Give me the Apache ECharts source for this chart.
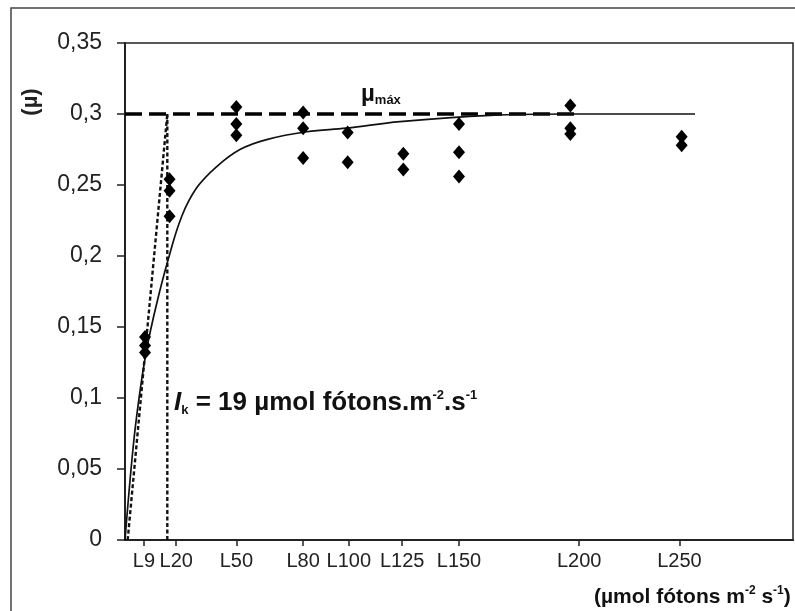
<!DOCTYPE html>
<html>
<head>
<meta charset="utf-8">
<script src="https://cdn.jsdelivr.net/npm/echarts@6/dist/echarts.min.js"></script>
<style>
  html, body { margin: 0; padding: 0; background: #fff; }
  #chart { width: 795px; height: 611px; }
</style>
</head>
<body>
<div id="chart"></div>
<script>
// Light treatments (µmol fótons m-2 s-1) and replicate growth rates (µ)
const lightLevels = [9, 20, 50, 80, 100, 125, 150, 200, 250];
const growthRates = [
  [0.143, 0.137, 0.132],
  [0.254, 0.246, 0.228],
  [0.305, 0.293, 0.285],
  [0.301, 0.290, 0.269],
  [0.287, 0.266],
  [0.272, 0.261],
  [0.293, 0.273, 0.256],
  [0.306, 0.290, 0.286],
  [0.284, 0.278]
];

// Axis tick labels and where they sit on the irradiance scale
const tickLabels = ['L9', 'L20', 'L50', 'L80', 'L100', 'L125', 'L150', 'L200', 'L250'];
const tickPositions = [8.5, 23, 50, 80, 100.5, 124.5, 150, 204, 249];

// Fitted µ–I curve
const fitIrradiance = [0, 3.7, 6.4, 9.7, 14, 19.3, 25.5, 32.2, 41.2, 51.6, 63.6, 81.6, 99.5, 123.5, 164, 200, 256];
const fitRate = [0, 0.066, 0.101, 0.134, 0.165, 0.197, 0.228, 0.248, 0.263, 0.275, 0.282, 0.2875, 0.290, 0.2946, 0.299, 0.300, 0.300];

// Saturation parameters
const muMax = 0.3;
const muMaxLineEnd = 204;
const ik = 19;
const slopeStart = 1.2;

const scatterData = [];
lightLevels.forEach((x, i) => growthRates[i].forEach(y => scatterData.push([x, y])));
const fitData = fitIrradiance.map((x, i) => [x, fitRate[i]]);

const FONT = '"Liberation Sans", Arial, sans-serif';

const chart = echarts.init(document.getElementById('chart'), null, { renderer: 'canvas' });

chart.setOption({
  animation: false,
  backgroundColor: '#ffffff',
  grid: {
    left: 125, top: 43, right: 2, bottom: 71,
    show: true, borderColor: '#222', borderWidth: 1.5, backgroundColor: 'transparent'
  },
  xAxis: {
    type: 'value',
    min: 0, max: 300,
    splitLine: { show: false },
    axisLine: { show: true, onZero: false, lineStyle: { color: '#222', width: 2 } },
    axisTick: { show: true, customValues: tickPositions, length: 6, lineStyle: { color: '#222', width: 1.5 } },
    axisLabel: {
      customValues: tickPositions,
      margin: 11,
      color: '#222',
      fontFamily: FONT,
      fontSize: 20,
      formatter: v => {
        const i = tickPositions.indexOf(v);
        return i >= 0 ? tickLabels[i] : '';
      }
    }
  },
  yAxis: {
    type: 'value',
    min: 0, max: 0.35, interval: 0.05,
    splitLine: { show: false },
    axisLine: { show: true, lineStyle: { color: '#222', width: 2 } },
    axisTick: { show: true, inside: false, length: 8, lineStyle: { color: '#222', width: 1.5 } },
    axisLabel: {
      margin: 23,
      color: '#222',
      fontFamily: FONT,
      fontSize: 23,
      formatter: v => String(parseFloat(v.toFixed(2))).replace('.', ',')
    }
  },
  series: [
    {
      name: 'ajuste',
      type: 'line',
      data: fitData,
      smooth: 0.4,
      showSymbol: false,
      lineStyle: { color: '#111', width: 1.7 },
      z: 3
    },
    {
      name: 'mu_max',
      type: 'line',
      data: [[0, muMax], [muMaxLineEnd, muMax]],
      showSymbol: false,
      lineStyle: { color: '#000', width: 3.5, type: [17, 7] },
      z: 2
    },
    {
      name: 'alfa',
      type: 'line',
      data: [[slopeStart, 0], [ik, muMax]],
      showSymbol: false,
      lineStyle: { color: '#111', width: 2.4, type: [4, 2.5] },
      z: 2
    },
    {
      name: 'Ik',
      type: 'line',
      data: [[ik, 0], [ik, muMax]],
      showSymbol: false,
      lineStyle: { color: '#111', width: 2.4, type: [4, 2.5] },
      z: 2
    },
    {
      name: 'taxa',
      type: 'scatter',
      data: scatterData,
      symbol: 'diamond',
      symbolSize: [12, 14],
      itemStyle: { color: '#000', opacity: 1 },
      z: 5
    }
  ],
  graphic: [
    {
      type: 'rect',
      shape: { x: 11, y: 8, width: 800, height: 620 },
      style: { fill: 'none', stroke: '#444', lineWidth: 1.5 },
      silent: true, z: 10
    },
    {
      type: 'text',
      x: 31, y: 102,
      rotation: Math.PI / 2,
      style: {
        text: '(µ)', font: 'bold 22px ' + FONT, fill: '#222',
        align: 'center', verticalAlign: 'middle'
      }
    },
    {
      type: 'text',
      x: 361, y: 94,
      style: {
        text: '{m|µ}{s|máx}',
        verticalAlign: 'middle',
        rich: {
          m: { font: 'bold 24px ' + FONT, fill: '#111', lineHeight: 26 },
          s: { font: 'bold 13px ' + FONT, fill: '#111', lineHeight: 14, verticalAlign: 'bottom' }
        }
      }
    },
    {
      type: 'text',
      x: 174, y: 403,
      style: {
        text: '{i|I}{sub|k}{b| = 19 µmol fótons.m}{sup|-2}{b|.s}{sup|-1}',
        verticalAlign: 'middle',
        rich: {
          i: { font: 'italic bold 26px ' + FONT, fill: '#111', lineHeight: 28 },
          sub: { font: 'bold 13px ' + FONT, fill: '#111', lineHeight: 13, verticalAlign: 'bottom' },
          b: { font: 'bold 26px ' + FONT, fill: '#111', lineHeight: 28 },
          sup: { font: 'bold 13px ' + FONT, fill: '#111', lineHeight: 13, verticalAlign: 'top' }
        }
      }
    },
    {
      type: 'text',
      x: 594, y: 597,
      style: {
        text: '{b|(µmol fótons m}{sup|-2}{b| s}{sup|-1}{b|)}',
        verticalAlign: 'middle',
        rich: {
          b: { font: 'bold 21px ' + FONT, fill: '#111', lineHeight: 24 },
          sup: { font: 'bold 12px ' + FONT, fill: '#111', lineHeight: 12, verticalAlign: 'top' }
        }
      }
    }
  ]
});
</script>
</body>
</html>
